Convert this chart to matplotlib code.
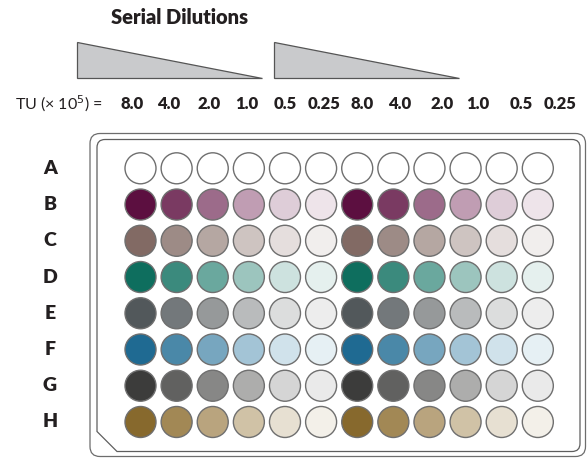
import matplotlib.pyplot as plt
from matplotlib.patches import Circle, Polygon, FancyBboxPatch, PathPatch
from matplotlib.path import Path

# plate rows and dilution labels
rows = ['A', 'B', 'C', 'D', 'E', 'F', 'G', 'H']
tu_labels = ['8.0', '4.0', '2.0', '1.0', '0.5', '0.25',
             '8.0', '4.0', '2.0', '1.0', '0.5', '0.25']
tu_x = [132.5, 169, 209, 246.7, 285, 324, 362.5, 400, 441.7, 478, 521.7, 560]

# well colours for one dilution series (6 wells), repeated twice across the plate
row_A = ['#ffffff'] * 6
row_B = ['#5c0f40', '#7a3a62', '#9c6b8a', '#c09db3', '#decdd8', '#eee4ea']
row_C = ['#826a64', '#9d8b86', '#b5a7a2', '#cec4c1', '#e5dedd', '#f1eeed']
row_D = ['#0e6e5e', '#3b8a7d', '#6aa89e', '#9cc5be', '#cde2df', '#e5f0ee']
row_E = ['#52585b', '#73787b', '#96999a', '#b9bbbc', '#dcdddd', '#ededed']
row_F = ['#1f6a92', '#4a88a8', '#77a6bf', '#a3c4d6', '#d0e2eb', '#e6f0f4']
row_G = ['#3c3c3b', '#616160', '#878786', '#adadac', '#d5d5d5', '#eaeaea']
row_H = ['#87692d', '#a28855', '#b9a47e', '#d0c2a6', '#e7e0d2', '#f3f0e9']
well_colors = [row_A, row_B, row_C, row_D, row_E, row_F, row_G, row_H]

plt.rcParams['font.family'] = ['Lato', 'DejaVu Sans']

fig = plt.figure(figsize=(5.87, 4.58), dpi=100)
ax = fig.add_axes([0, 0, 1, 1])
ax.set_xlim(0, 587)
ax.set_ylim(458, 0)
ax.axis('off')

# title and dilution wedges
ax.text(179.5, 17, 'Serial Dilutions', ha='center', va='center',
        fontsize=14.5, fontweight='heavy', color='#231f20')
for x0, x1 in [(77.3, 261.7), (274.3, 459)]:
    ax.add_patch(Polygon([(x0, 42.3), (x0, 78.3), (x1, 78.3)], closed=True,
                         facecolor='#c9cacc', edgecolor='#555555', lw=0.9))

# TU row
ax.text(15, 104, 'TU (\u00d7 10$^5$) =', ha='left', va='center',
        fontsize=11.5, color='#231f20')
for x, lab in zip(tu_x, tu_labels):
    ax.text(x, 104, lab, ha='center', va='center', fontsize=12,
            fontweight='heavy', color='#231f20')

# plate outline (outer rounded box)
ax.add_patch(FancyBboxPatch((90, 133.5), 495.5, 323,
                            boxstyle='round,pad=0,rounding_size=10',
                            facecolor='none', edgecolor='#6d6d6d', lw=0.9))

# inner outline with chamfered corner at bottom-left
L, T, R, B, r, c = 97, 139.5, 580, 451.5, 8, 20
verts = [(L, B - c), (L, T + r), (L, T), (L + r, T), (R - r, T), (R, T), (R, T + r),
         (R, B - r), (R, B), (R - r, B), (L + c, B), (L, B - c)]
codes = [Path.MOVETO, Path.LINETO, Path.CURVE3, Path.CURVE3, Path.LINETO,
         Path.CURVE3, Path.CURVE3, Path.LINETO, Path.CURVE3, Path.CURVE3,
         Path.LINETO, Path.CLOSEPOLY]
ax.add_patch(PathPatch(Path(verts, codes), facecolor='none',
                       edgecolor='#5e5e5e', lw=0.9))

# wells
x_first, dx = 140.5, 36.12
y_first, dy = 168.3, 36.24
for i, (row, colors) in enumerate(zip(rows, well_colors)):
    y = y_first + i * dy
    ax.text(50, y, row, ha='center', va='center', fontsize=14,
            fontweight='heavy', color='#231f20')
    for j, col in enumerate(colors * 2):
        ax.add_patch(Circle((x_first + j * dx, y), 15.5, facecolor=col,
                            edgecolor='#6f6f6f', lw=1.0))

fig.savefig('out.png', dpi=100)
